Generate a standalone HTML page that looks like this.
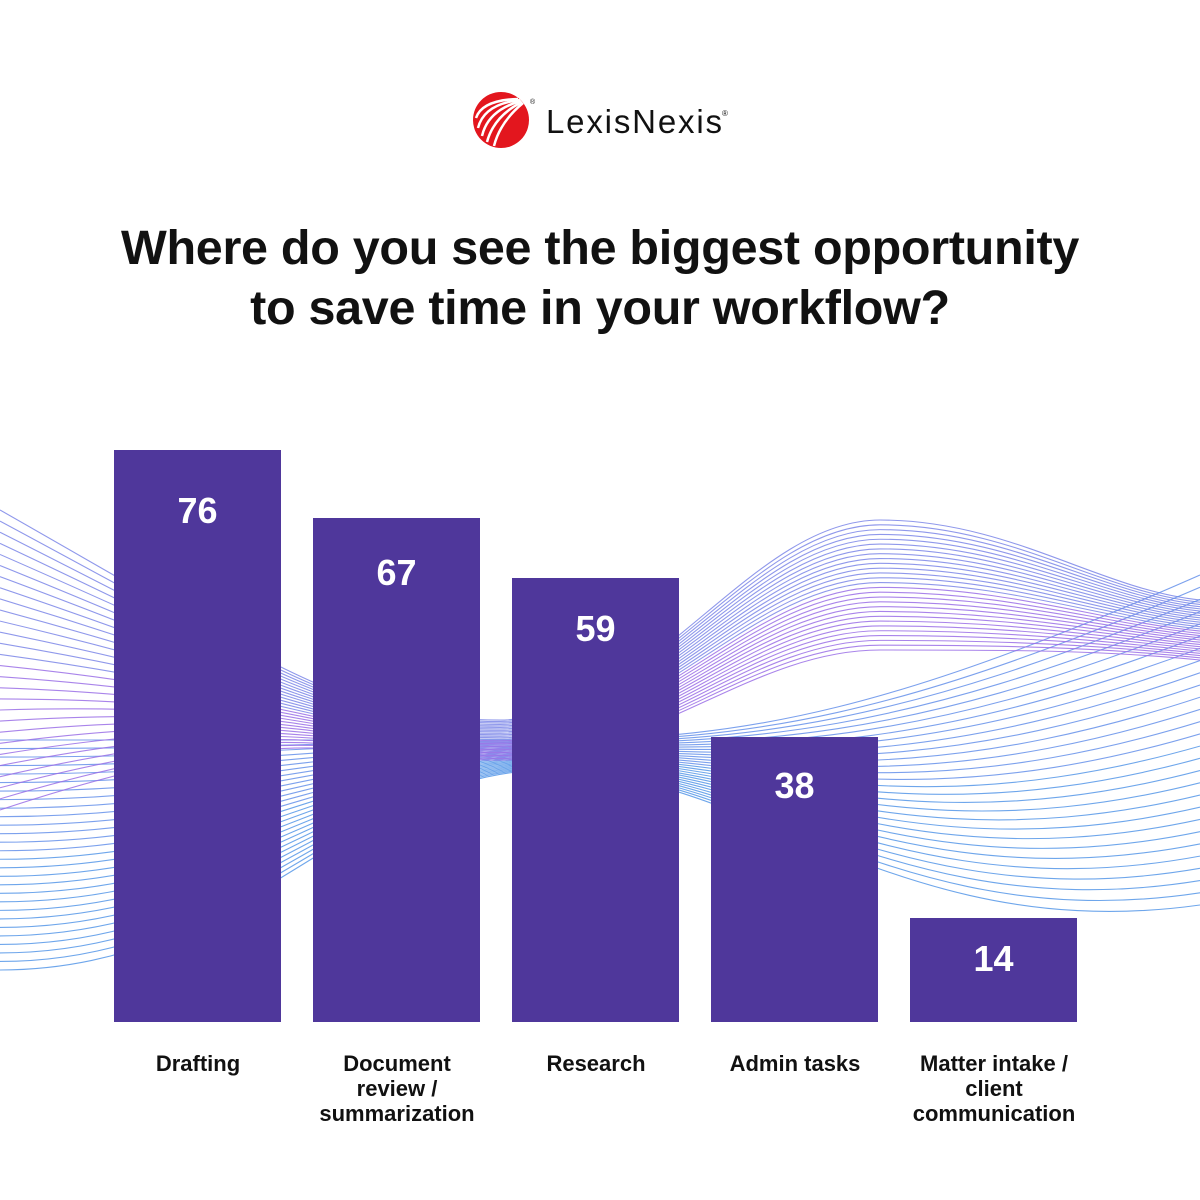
<!DOCTYPE html>
<html><head><meta charset="utf-8"><style>
body{margin:0;width:1200px;height:1200px;background:#fff;position:relative;overflow:hidden;font-family:"Liberation Sans",sans-serif}
.t{position:absolute;left:0;width:1200px;text-align:center;font-weight:bold;font-size:48.5px;color:#111;letter-spacing:-0.3px}
.bar{position:absolute;background:#4f379b;width:167px;bottom:178px}
.num{position:absolute;width:167px;text-align:center;color:#fff;font-weight:bold;font-size:36px}
.lab{position:absolute;width:220px;text-align:center;font-weight:bold;font-size:22px;line-height:25px;color:#111;top:1051px}
</style></head><body>
<svg id="w" width="1200" height="1200" style="position:absolute;left:0;top:0"></svg>
<svg width="1200" height="200" style="position:absolute;left:0;top:0">
<circle cx="501" cy="120" r="28" fill="#e3161e"/>
<g stroke="#fff" stroke-width="2.5" fill="none">
<path d="M478 128 Q484 104 520 100"/><path d="M482 136 Q488 110 521 101"/><path d="M487 142 Q494 116 522 102"/><path d="M494 146 Q500 122 523 103"/><path d="M476 118 Q482 100 518 99"/>
</g>
<text x="546" y="133" font-size="33" textLength="176" fill="#111" font-family="Liberation Sans">LexisNexis</text>
<text x="722" y="116" font-size="8" fill="#111">®</text><text x="530" y="104" font-size="7" fill="#111">®</text>
</svg>
<div class="t" style="top:220px">Where do you see the biggest opportunity</div>
<div class="t" style="top:280px">to save time in your workflow?</div>
<div class="bar" style="left:114px;top:450px"></div><div class="num" style="left:114px;top:490px">76</div>
<div class="bar" style="left:313px;top:518px"></div><div class="num" style="left:313px;top:552px">67</div>
<div class="bar" style="left:512px;top:578px"></div><div class="num" style="left:512px;top:608px">59</div>
<div class="bar" style="left:711px;top:737px"></div><div class="num" style="left:711px;top:765px">38</div>
<div class="bar" style="left:910px;top:918px"></div><div class="num" style="left:910px;top:938px">14</div>
<div class="lab" style="left:88px">Drafting</div>
<div class="lab" style="left:287px">Document<br>review /<br>summarization</div>
<div class="lab" style="left:486px">Research</div>
<div class="lab" style="left:685px">Admin tasks</div>
<div class="lab" style="left:884px">Matter intake /<br>client<br>communication</div>
<script>
var s=document.getElementById('w'),h='';
var N=28;
for(var i=0;i<N;i++){var f=i/(N-1);
 var y0=510+f*300, y1=720+f*40, y2=520+f*130, y3=600+f*60;
 h+='<path d="M0 '+y0+' C300 '+(y0+(700-y0)*0.9)+' 350 '+y1+' 500 '+y1+' S 750 '+y2+' 880 '+y2+' S 1100 '+(y3-10)+' 1200 '+y3+'" stroke="'+(f<0.5?'#7b86e8':'#9a6fe6')+'" stroke-width="1.1" fill="none" opacity="0.85"/>';
 var b0=740+f*230, b1=740+f*30, b3=575+f*330;
 h+='<path d="M0 '+b0+' C250 '+b0+' 350 '+b1+' 550 '+b1+' S 900 '+(b1+(b3-b1)*0.2+ (f*150))+' 1200 '+b3+'" stroke="'+(f<0.5?'#5b8ae8':'#4a90e6')+'" stroke-width="1.1" fill="none" opacity="0.8"/>';
}
s.innerHTML=h;
</script>
</body></html>
